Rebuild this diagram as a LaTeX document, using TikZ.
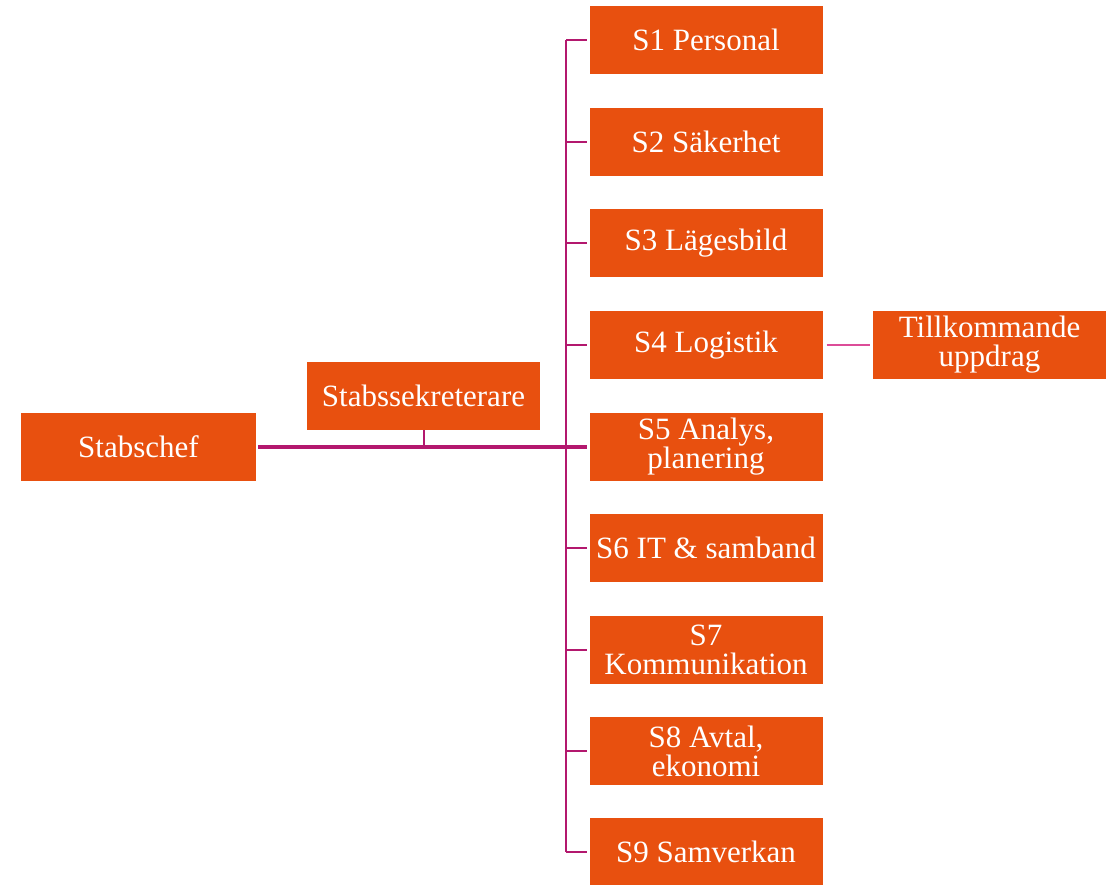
\documentclass[tikz,border=0pt]{standalone}
\usepackage{fontspec}
\setmainfont{Liberation Serif}
\newfontfamily\orgfont{Liberation Serif}
\definecolor{boxorange}{HTML}{E8500F}
\definecolor{linemag}{HTML}{B3186E}
\definecolor{linepink}{HTML}{DC4C98}
\begin{document}
\begin{tikzpicture}[x=1pt,y=-1pt,
  orgbox/.style={fill=boxorange,draw=none,minimum width=233pt,minimum height=68pt,inner sep=0pt,
    text=white,align=center,font=\orgfont\fontsize{31}{29}\selectfont},
  conn/.style={draw=linemag,line width=2pt},
  mainconn/.style={draw=linemag,line width=4pt},
  sideconn/.style={draw=linepink,line width=2pt}]
\useasboundingbox (0,0) rectangle (1116,885);
\node[orgbox,minimum width=235pt] (chef) at (138.5,446.5) {Stabschef};
\node[orgbox] (sekr) at (423.5,396) {Stabssekreterare};
\node[orgbox] (s1) at (706,40) {S1 Personal};
\node[orgbox] (s2) at (706,142) {S2 Säkerhet};
\node[orgbox] (s3) at (706,243.5) {S3 Lägesbild};
\node[orgbox] (s4) at (706,345) {S4 Logistik};
\node[orgbox] (s5) at (706,446.5) {S5 Analys,\\planering};
\node[orgbox] (s6) at (706,548) {S6 IT \& samband};
\node[orgbox] (s7) at (706,649.5) {S7\\Kommunikation};
\node[orgbox] (s8) at (706,751) {S8 Avtal,\\ekonomi};
\node[orgbox] (s9) at (706,852) {S9 Samverkan};
\node[orgbox] (till) at (989.5,345) {Tillkommande\\uppdrag};
\coordinate (bus) at (566,0);
% vertical bus
\draw[conn] (s1.west -| bus) -- (s9.west -| bus);
\foreach \n in {s1,s2,s3,s4,s6,s7,s8,s9}{
  \draw[conn,shorten >=2pt] (\n.west -| bus) -- (\n.west);
}
% main connector
\draw[mainconn,shorten <=2pt,shorten >=2pt] (chef.east) -- (s5.west);
\coordinate (tick) at (sekr.south |- chef.east);
\draw[conn] (sekr.south) -- (tick);
% side connector
\draw[sideconn,shorten <=4pt,shorten >=3pt] (s4.east) -- (till.west);
\end{tikzpicture}
\end{document}
